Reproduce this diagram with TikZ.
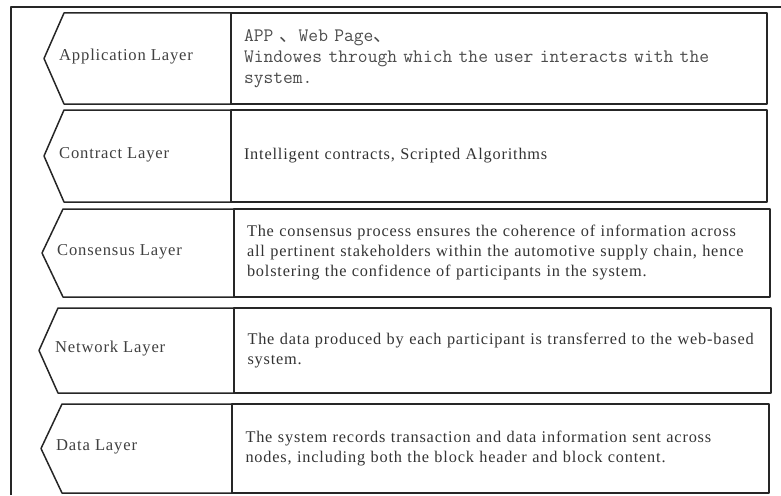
\documentclass[tikz,border=0pt]{standalone}
\usepackage{fontspec}
\setmainfont[LetterSpace=5]{Liberation Serif}
\newfontfamily\cjk{Noto Sans CJK SC}
\usetikzlibrary{positioning}

\tikzset{
    layerline/.style={draw=black!85, line width=1.5pt, line join=round},
    descbox/.style={layerline, anchor=north west, outer sep=0pt, inner xsep=13pt,
        text width=510pt, align=left, text=black!80, font=\fontsize{16.3}{20}\selectfont},
    layerlabel/.style={anchor=mid west, inner sep=0pt, text=black!75, font=\fontsize{16.6}{20}\selectfont},
}

\begin{document}
\begin{tikzpicture}[x=1pt, y=-1pt]
        \useasboundingbox (0,0) rectangle (781,495);
        \draw[layerline] (11,495) -- (11,7) -- (781,7);

        % description boxes
        \node[descbox, minimum width=536pt, minimum height=91pt, text=black!70,
            font=\ttfamily\fontsize{19}{21}\selectfont] at (231,13) (appdesc)
            {APP {\cjk 、}Web Page{\cjk 、}\\Windowes through which the user interacts with the\\system.};
        \node[descbox, minimum width=536pt, minimum height=92pt] at (231,110) (condesc)
            {Intelligent contracts, Scripted Algorithms};
        \node[descbox, minimum width=536pt, minimum height=88pt] at (234,209) (censdesc)
            {The consensus process ensures the coherence of information across\\all pertinent stakeholders within the automotive supply chain, hence\\bolstering the confidence of participants in the system.};
        \node[descbox, minimum width=537pt, minimum height=85pt] at (234,308) (netdesc)
            {The data produced by each participant is transferred to the web-based\\system.};
        \node[descbox, minimum width=537pt, minimum height=89pt] at (232,404) (datadesc)
            {The system records transaction and data information sent across\\nodes, including both the block header and block content.};

        % layer tags
        \draw[layerline] (appdesc.north west) -- (64,13) -- (44,58.5) -- (64,104) -- (appdesc.south west);
        \draw[layerline] (condesc.north west) -- (64,110) -- (44,156) -- (64,202) -- (condesc.south west);
        \draw[layerline] (censdesc.north west) -- (63,209) -- (42,253) -- (63,297) -- (censdesc.south west);
        \draw[layerline] (netdesc.north west) -- (58,308) -- (39,350.5) -- (58,393) -- (netdesc.south west);
        \draw[layerline] (datadesc.north west) -- (62,404) -- (41,448.5) -- (62,493) -- (datadesc.south west);

        \node[layerlabel] at (59,58.5) (applabel) {Application Layer};
        \node[layerlabel] at (59,156) (conlabel) {Contract Layer};
        \node[layerlabel] at (57,253) (censlabel) {Consensus Layer};
        \node[layerlabel] at (55,350.5) (netlabel) {Network Layer};
        \node[layerlabel] at (56,448.5) (datalabel) {Data Layer};
\end{tikzpicture}
\end{document}
